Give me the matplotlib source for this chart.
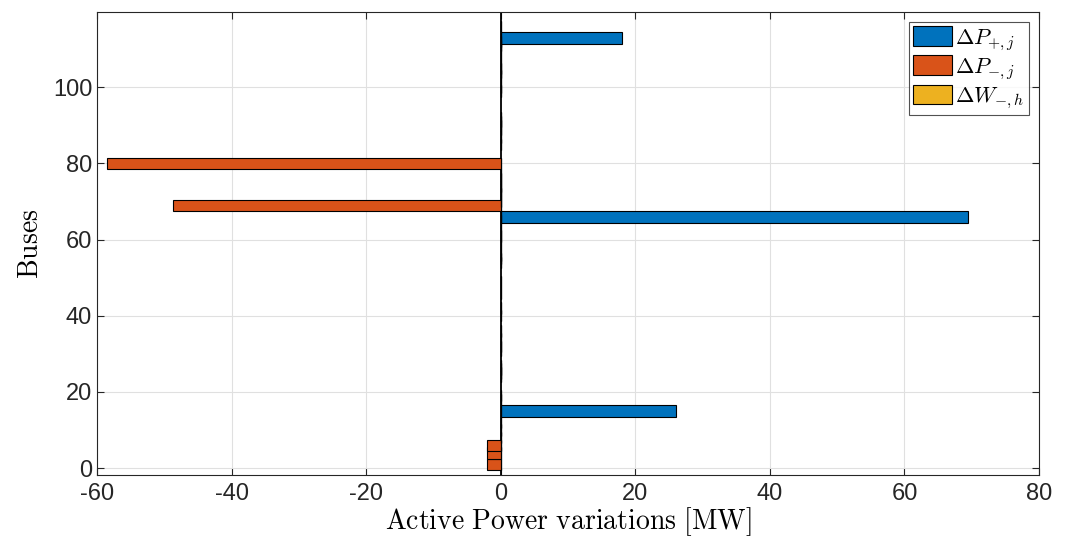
import matplotlib
matplotlib.use("Agg")
import matplotlib.pyplot as plt
import numpy as np

plt.rcParams['mathtext.fontset'] = 'cm'
plt.rcParams['font.family'] = ['Liberation Sans', 'DejaVu Sans']
plt.rcParams['axes.unicode_minus'] = False

# IEEE 118-bus generator buses
buses = [1, 4, 6, 8, 10, 12, 15, 18, 19, 24, 25, 26, 27, 31, 32, 34, 36, 40, 42,
         46, 49, 54, 55, 56, 59, 61, 62, 65, 66, 69, 70, 72, 73, 74, 76, 77, 80,
         85, 87, 89, 90, 91, 92, 99, 100, 103, 104, 105, 107, 110, 111, 112, 113, 116]
dP_plus_vals = {113: 18.0, 66: 69.4, 15: 26.0}
dP_minus_vals = {80: -58.5, 69: -48.7, 1: -2.0, 4: -2.0, 6: -2.0}
dP_plus = [dP_plus_vals.get(b, 0.0) for b in buses]
dP_minus = [dP_minus_vals.get(b, 0.0) for b in buses]
dW_minus = [0.0 for b in buses]

labels = [r'$\Delta P_{+,j}$', r'$\Delta P_{-,j}$', r'$\Delta W_{-,h}$']
colors = ['#0072BD', '#D95319', '#EDB120']
xticks = [-60, -40, -20, 0, 20, 40, 60, 80]
yticks = [0, 20, 40, 60, 80, 100]

fig = plt.figure(figsize=(10.67, 5.44), dpi=100)
ax = fig.add_axes([0.0909, 0.127, 0.8829, 0.851])

h = 3.0
for vals, lab, col in zip([dP_plus, dP_minus, dW_minus], labels, colors):
    ax.barh(buses, vals, height=h, color=col, edgecolor='black', linewidth=0.8,
            label=lab, zorder=3)
# bar baseline
ax.axvline(0, color='black', linewidth=1.3, zorder=2.5)

ax.set_xlim(-60, 80)
ax.set_ylim(-1.8, 119.8)
ax.set_xticks(xticks)
ax.set_yticks(yticks)
ax.tick_params(axis='both', labelsize=17, direction='in', length=5,
               top=True, right=True, colors='#262626', labelcolor='#262626')
ax.tick_params(axis='x', pad=6)
for s in ax.spines.values():
    s.set_color('#262626')
    s.set_linewidth(0.8)
ax.grid(True, color='#e0e0e0', linewidth=0.8, zorder=0)
ax.set_axisbelow(True)

ax.set_xlabel(r'$\mathrm{Active\ Power\ variations\ [MW]}$', fontsize=20, labelpad=0)
ax.set_ylabel(r'$\mathrm{Buses}$', fontsize=20, labelpad=6)

leg = ax.legend(loc='upper right', fontsize=16, frameon=True, fancybox=False,
                edgecolor='#262626', handlelength=1.75, handleheight=1.0,
                borderaxespad=0.45, borderpad=0.2, labelspacing=0.12,
                handletextpad=0.15)
leg.get_frame().set_linewidth(0.8)

fig.savefig('out.png', dpi=100)
